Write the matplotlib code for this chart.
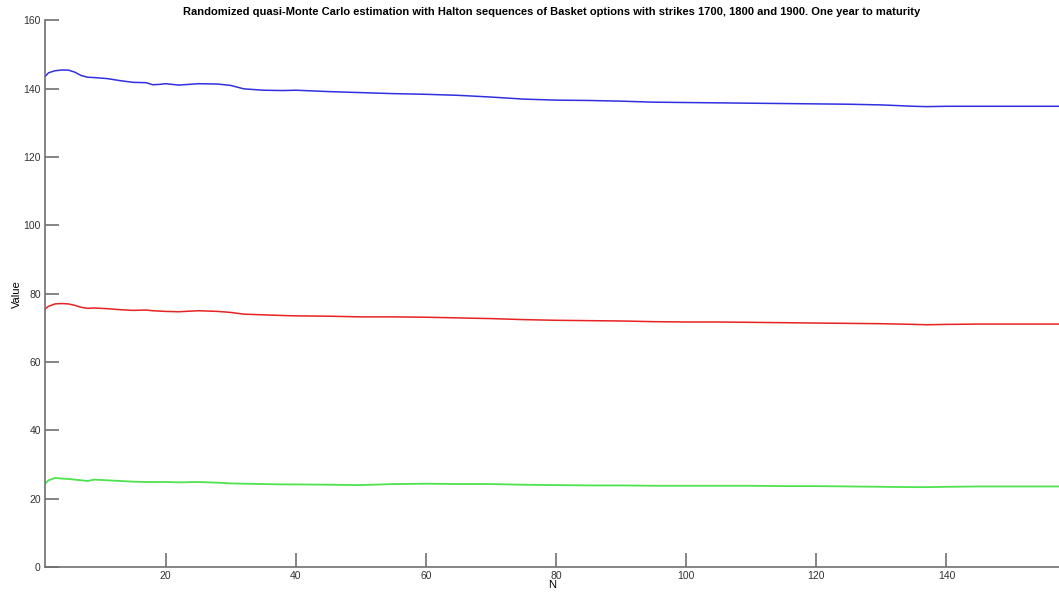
import matplotlib.pyplot as plt

# =====================================
# DATA
# =====================================
n_values = [1, 2, 3, 4, 5, 6, 7, 8, 9, 11, 13, 15, 17, 18, 19, 20, 22, 25,
            28, 30, 32, 35, 38, 40, 45, 50, 55, 60, 65, 70, 75, 80, 85, 90,
            95, 100, 105, 110, 115, 120, 125, 130, 135, 137, 140, 145, 150,
            155, 158]

strike_1700 = [142.6, 144.6, 145.2, 145.4, 145.4, 144.8, 143.8, 143.3, 143.2,
               142.9, 142.3, 141.8, 141.7, 141.1, 141.2, 141.4, 141.0, 141.4,
               141.3, 140.9, 139.9, 139.5, 139.4, 139.5, 139.1, 138.8, 138.5,
               138.3, 138.0, 137.5, 136.9, 136.6, 136.5, 136.3, 136.0, 135.9,
               135.8, 135.7, 135.6, 135.5, 135.4, 135.2, 134.8, 134.7, 134.8,
               134.8, 134.8, 134.8, 134.8]

strike_1800 = [74.8, 76.3, 77.0, 77.1, 77.0, 76.6, 76.0, 75.7, 75.8, 75.6,
               75.3, 75.1, 75.2, 75.0, 74.9, 74.8, 74.7, 75.0, 74.8, 74.5,
               74.0, 73.8, 73.6, 73.5, 73.4, 73.2, 73.2, 73.1, 72.9, 72.7,
               72.4, 72.2, 72.1, 72.0, 71.8, 71.7, 71.7, 71.6, 71.5, 71.4,
               71.3, 71.2, 71.0, 70.9, 71.0, 71.1, 71.1, 71.1, 71.1]

strike_1900 = [23.6, 25.4, 26.1, 25.9, 25.8, 25.6, 25.4, 25.2, 25.6, 25.4,
               25.2, 25.0, 24.9, 24.9, 24.9, 24.9, 24.8, 24.9, 24.7, 24.5,
               24.4, 24.3, 24.2, 24.2, 24.1, 24.0, 24.3, 24.4, 24.3, 24.3,
               24.1, 24.0, 23.9, 23.9, 23.8, 23.8, 23.8, 23.8, 23.7, 23.7,
               23.6, 23.5, 23.4, 23.4, 23.5, 23.6, 23.6, 23.6, 23.6]

x_ticks = [20, 40, 60, 80, 100, 120, 140]
y_ticks = [0, 20, 40, 60, 80, 100, 120, 140, 160]

# =====================================
# PLOT
# =====================================
plt.rcParams["font.family"] = ["Liberation Sans", "DejaVu Sans"]

fig = plt.figure(figsize=(10.59, 5.92), dpi=100)
ax = fig.add_axes([0.0425, 0.042, 0.9575, 0.924])

ax.plot(n_values, strike_1700, color="#3030e0", linewidth=1.1)
ax.plot(n_values, strike_1800, color="#e62222", linewidth=1.1)
ax.plot(n_values, strike_1900, color="#4ee24e", linewidth=1.3)

ax.set_xlim(1.45, 157.3)
ax.set_ylim(0, 160)
ax.set_xticks(x_ticks)
ax.set_yticks(y_ticks)

for side in ["top", "right"]:
    ax.spines[side].set_visible(False)
for side in ["left", "bottom"]:
    ax.spines[side].set_color("#707070")
    ax.spines[side].set_linewidth(1.2)

ax.tick_params(
    direction="in",
    length=10,
    width=1.2,
    color="#707070",
    labelsize=7.5,
    labelcolor="#333333",
    pad=3
)

ax.set_title(
    "Randomized quasi-Monte Carlo estimation with Halton sequences of "
    "Basket options with strikes 1700, 1800 and 1900. One year to maturity",
    fontsize=8,
    fontweight="bold",
    pad=4
)
ax.set_xlabel("N", fontsize=8, labelpad=-1)
ax.set_ylabel("Value", fontsize=8, labelpad=1)

plt.savefig("out.png", dpi=100)
